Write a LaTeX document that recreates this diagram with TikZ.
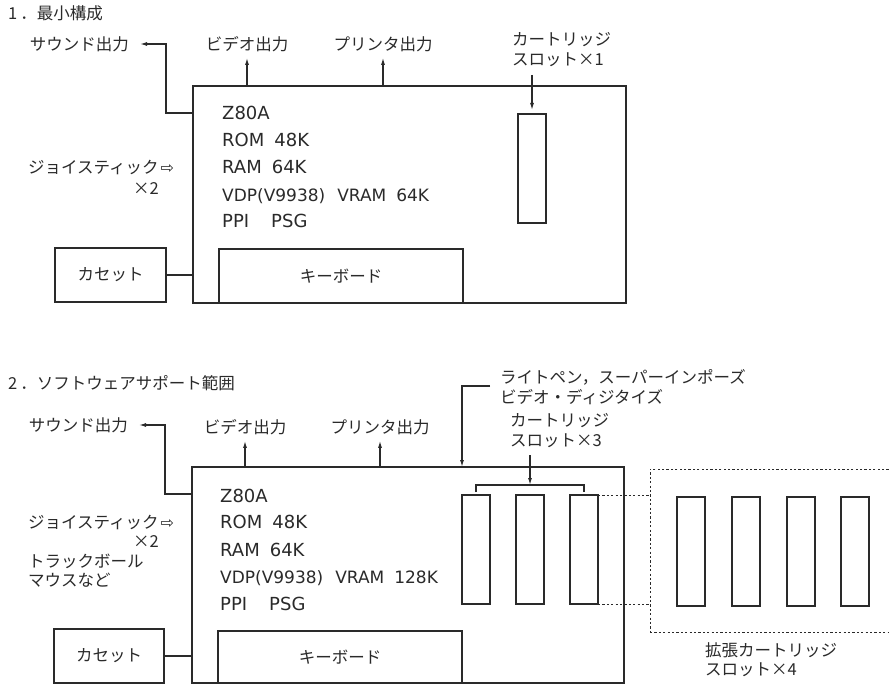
\documentclass[tikz,border=0pt]{standalone}
\usepackage{fontspec}
\setmainfont{DejaVu Sans}
\newfontfamily\jp{Noto Sans CJK JP}
\newfontfamily\sym{DejaVu Sans}
\usetikzlibrary{arrows.meta}
\definecolor{ink}{HTML}{2A2A2A}
\tikzset{
  box/.style={draw=ink, line width=1.2pt, inner sep=0pt, outer sep=0pt, anchor=north west,
              text=ink, font=\jp\fontsize{16.5}{20}\selectfont},
  slotbox/.style={box, minimum width=28pt, minimum height=109pt},
  dotbox/.style={draw=ink, line width=1pt, dash pattern=on 2.2pt off 2.2pt, inner sep=0pt,
              outer sep=0pt, anchor=north west},
  jtxt/.style={inner sep=0pt, text=ink, anchor=west, font=\jp\fontsize{16.5}{20}\selectfont},
  etxt/.style={inner sep=0pt, text=ink, anchor=base west, font=\fontsize{18}{20}\selectfont},
  ntxt/.style={etxt, font=\fontsize{17}{20}\selectfont},
  conn/.style={draw=ink, line width=1.2pt},
  arr/.style={conn, -{Latex[length=7pt,width=4pt]}},
  dotline/.style={draw=ink, line width=1pt, dash pattern=on 2.2pt off 2.2pt}
}
\begin{document}
\begin{tikzpicture}[x=1pt,y=-1pt]
\fill[white] (0,0) rectangle (889,684);
\clip (0,0) rectangle (889,684);

% ---------------- 1. minimum configuration ----------------
\node[jtxt] (t1) at (8,13) {1\hspace{3pt}．最小構成};

\node[box, minimum width=433pt, minimum height=217pt] (main1) at (193,86) {};
\node[box, minimum width=244pt, minimum height=54pt] (kb1) at (219,249) {キーボード};
\node[box, minimum width=111pt, minimum height=54pt] (cas1) at (55,248) {カセット};
\node[slotbox] (slot1) at (518,114) {};

\node[etxt] (z1) at (222,120) {Z80A};
\node[etxt] (rom1) at (222,147) {ROM\hspace{10pt}48K};
\node[etxt] (ram1) at (222,174) {RAM\hspace{10pt}64K};
\node[ntxt] (vdp1) at (222,202) {VDP(V9938)\hspace{12pt}VRAM\hspace{10pt}64K};
\node[etxt] (ppi1) at (222,228) {PPI\hspace{22pt}PSG};

\node[jtxt, anchor=east] (snd1) at (129,44) {サウンド出力};
\node[jtxt, anchor=center] (vid1) at (247,44) {ビデオ出力};
\node[jtxt, anchor=center] (prn1) at (383,44) {プリンタ出力};
\node[jtxt] (cartA1) at (512,40) {カートリッジ};
\node[jtxt] (cartB1) at (512,60) {スロット×1};
\node[jtxt] (joyA1) at (28,167) {ジョイスティック\hspace{2pt}{\sym\fontsize{16}{16}\selectfont ⇨}};
\node[jtxt] (joyB1) at (133,189) {×2};

\coordinate (c1a) at (532,75);
\draw[arr] ([yshift=-27pt]main1.north west) -| (166,44) -- ([xshift=11pt]snd1.east);
\draw[arr] (main1.north -| vid1) -- ([yshift=-6pt]vid1.south);
\draw[arr] (main1.north -| prn1) -- ([yshift=-6pt]prn1.south);
\draw[arr] (c1a) -- ([yshift=4pt]slot1.north);
\draw[conn] (cas1.east) -- (cas1.east -| main1.west);

% ---------------- 2. software support range ----------------
\node[jtxt] (t2) at (8,383) {2\hspace{3pt}．ソフトウェアサポート範囲};

\node[box, minimum width=432pt, minimum height=216pt] (main2) at (192,467) {};
\node[box, minimum width=244pt, minimum height=52pt] (kb2) at (218,631) {キーボード};
\node[box, minimum width=110pt, minimum height=54pt] (cas2) at (54,629) {カセット};
\node[slotbox] (slotA) at (462,495) {};
\node[slotbox] (slotB) at (516,495) {};
\node[slotbox] (slotC) at (570,495) {};

\node[dotbox, minimum width=260pt, minimum height=163pt] (ext) at (650,469) {};
\node[slotbox] (extA) at (677,497) {};
\node[slotbox] (extB) at (732,497) {};
\node[slotbox] (extC) at (787,497) {};
\node[slotbox] (extD) at (841,497) {};

\node[etxt] (z2) at (220,502) {Z80A};
\node[etxt] (rom2) at (220,528) {ROM\hspace{10pt}48K};
\node[etxt] (ram2) at (220,556) {RAM\hspace{10pt}64K};
\node[ntxt] (vdp2) at (220,583) {VDP(V9938)\hspace{12pt}VRAM\hspace{10pt}128K};
\node[etxt] (ppi2) at (220,610) {PPI\hspace{22pt}PSG};

\node[jtxt, anchor=east] (snd2) at (128,425) {サウンド出力};
\node[jtxt, anchor=center] (vid2) at (245,427) {ビデオ出力};
\node[jtxt, anchor=center] (prn2) at (380,427) {プリンタ出力};
\node[jtxt] (joyA2) at (28,522) {ジョイスティック\hspace{2pt}{\sym\fontsize{16}{16}\selectfont ⇨}};
\node[jtxt] (joyB2) at (133,542) {×2};
\node[jtxt] (trk2) at (28,561) {トラックボール};
\node[jtxt] (mou2) at (28,580) {マウスなど};
\node[jtxt] (lpA) at (500,377) {ライトペン，スーパーインポーズ};
\node[jtxt] (lpB) at (500,397) {ビデオ・ディジタイズ};
\node[jtxt] (cartA2) at (510,421) {カートリッジ};
\node[jtxt] (cartB2) at (510,441) {スロット×3};
\node[jtxt] (extLA) at (705,650) {拡張カートリッジ};
\node[jtxt] (extLB) at (705,670) {スロット×4};

\coordinate (lp) at (490,386);
\coordinate (c2a) at (530,455);
\draw[arr] ([yshift=-27pt]main2.north west) -| (165,425) -- ([xshift=11pt]snd2.east);
\draw[arr] (main2.north -| vid2) -- ([yshift=-6pt]vid2.south);
\draw[arr] (main2.north -| prn2) -- ([yshift=-6pt]prn2.south);
\draw[arr] (lp) -| (slotA.north west |- main2.north);
\draw[arr] (c2a) -- ([yshift=10pt]slotB.north);
\draw[conn] ([yshift=3pt]slotA.north) |- ([yshift=10pt]slotC.north) -- ([yshift=3pt]slotC.north);
\draw[conn] (cas2.east) -- (cas2.east -| main2.west);
\draw[dotline] (slotC.north east) -- (slotC.north east -| ext.west);
\draw[dotline] (slotC.south east) -- (slotC.south east -| ext.west);
\end{tikzpicture}
\end{document}
